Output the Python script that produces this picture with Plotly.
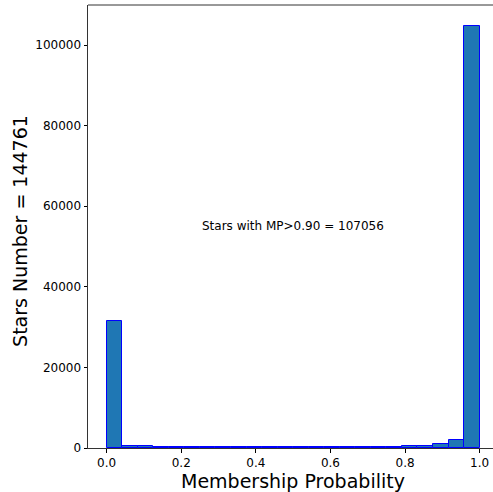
import numpy as np
import plotly.graph_objects as go

# Membership-probability histogram: 24 equal bins over [0, 1]
bin_edges = np.linspace(0.0, 1.0, 25)
counts = [31601, 600, 400, 300, 250, 230, 220, 200, 200, 190, 190, 190,
          200, 200, 210, 230, 260, 300, 350, 420, 550, 900, 1950, 104620]

total_stars = 144761
high_mp_stars = 107056

x_ticks = [0.0, 0.2, 0.4, 0.6, 0.8, 1.0]
y_ticks = [0, 20000, 40000, 60000, 80000, 100000]

centers = (bin_edges[:-1] + bin_edges[1:]) / 2
widths = np.diff(bin_edges)

font_family = "DejaVu Sans"
spine = "#333333"

fig = go.Figure()
fig.add_trace(go.Bar(
    x=centers,
    y=counts,
    width=widths,
    marker=dict(color="#1f77b4", line=dict(color="#0000ff", width=1)),
    showlegend=False,
))

fig.update_layout(
    width=493,
    height=492,
    margin=dict(l=88, r=0, t=5, b=44),
    paper_bgcolor="white",
    plot_bgcolor="white",
    bargap=0,
    font=dict(family=font_family, size=12, color="black"),
    xaxis=dict(
        range=[-0.05, 1.0358],
        tickvals=x_ticks,
        ticktext=[f"{v:.1f}" for v in x_ticks],
        ticks="outside",
        ticklen=3.5,
        tickwidth=0.8,
        tickcolor="black",
        showline=True,
        linecolor=spine,
        linewidth=1,
        showgrid=False,
        zeroline=False,
        tickfont=dict(family=font_family, size=12, color="black"),
    ),
    yaxis=dict(
        range=[0, 109926],
        tickvals=y_ticks,
        ticktext=[str(v) for v in y_ticks],
        ticks="outside",
        ticklen=3.5,
        tickwidth=0.8,
        tickcolor="black",
        showline=True,
        linecolor=spine,
        linewidth=1,
        showgrid=False,
        zeroline=False,
        tickfont=dict(family=font_family, size=12, color="black"),
    ),
)

# Top frame line (right side of the frame lies outside the page)
fig.add_shape(type="line", xref="paper", yref="paper", x0=0, x1=1, y0=1, y1=1,
              line=dict(color=spine, width=1))

# Axis titles
fig.add_annotation(text="Membership Probability", xref="x", yref="paper",
                   x=0.5, y=-0.0745, xanchor="center", yanchor="middle",
                   showarrow=False, font=dict(family=font_family, size=19, color="black"))
fig.add_annotation(text=f"Stars Number = {total_stars}", xref="paper", yref="paper",
                   x=-0.168, y=0.49, xanchor="center", yanchor="middle", textangle=-90,
                   showarrow=False, font=dict(family=font_family, size=19, color="black"))

# In-plot note
fig.add_annotation(text=f"Stars with MP>0.90 = {high_mp_stars}", xref="x", yref="y",
                   x=0.5, y=55000, xanchor="center", yanchor="middle",
                   showarrow=False, font=dict(family=font_family, size=12, color="black"))

fig.write_html("out.html")
